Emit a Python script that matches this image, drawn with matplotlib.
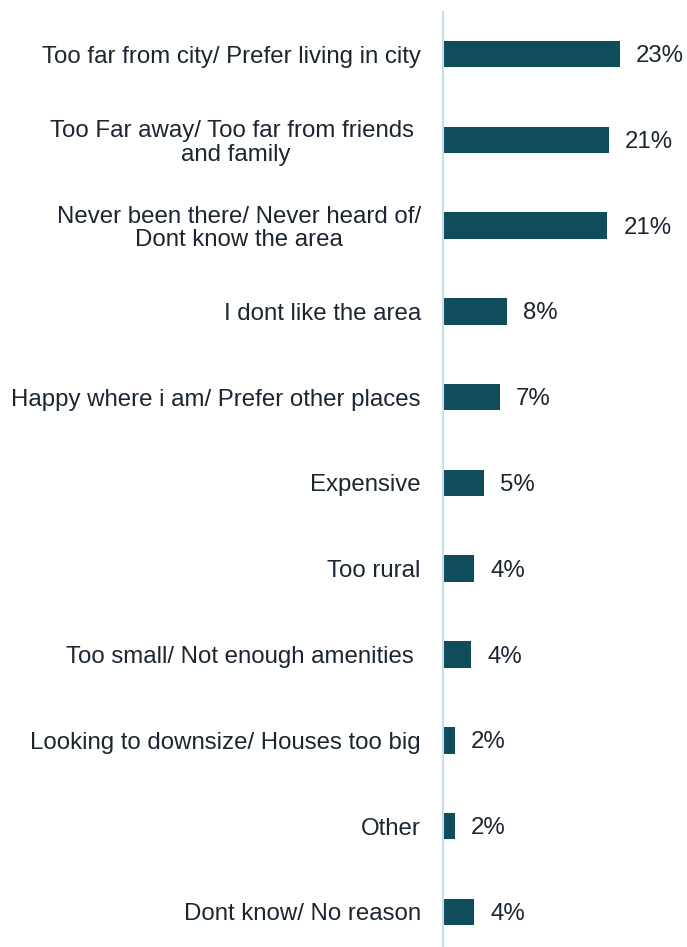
import matplotlib.pyplot as plt

# Reasons for not moving to the area (share of respondents, %)
reasons = [
    "Too far from city/ Prefer living in city",
    "Too Far away/ Too far from friends \nand family",
    "Never been there/ Never heard of/\nDont know the area",
    "I dont like the area",
    "Happy where i am/ Prefer other places",
    "Expensive",
    "Too rural",
    "Too small/ Not enough amenities ",
    "Looking to downsize/ Houses too big",
    "Other",
    "Dont know/ No reason",
]
shares = [22.7, 21.3, 21.1, 8.2, 7.3, 5.2, 4.0, 3.6, 1.5, 1.5, 4.0]

bar_color = "#0F4D5A"
text_color = "#1B2631"
axis_color = "#C6DDEE"
fs = 17.3

plt.rcParams["font.family"] = ["Liberation Sans", "DejaVu Sans"]

fig = plt.figure(figsize=(6.87, 9.47), dpi=100)
ax = fig.add_axes([443 / 687, 0.0, 1 - 443 / 687, 1 - 12 / 947])

pos = list(range(len(reasons)))
bars = ax.barh(pos, shares, height=0.31, color=bar_color)

# value labels next to each bar
for b, v in zip(bars, shares):
    ax.annotate(f"{v:.0f}%", (b.get_width(), b.get_y() + b.get_height() / 2),
                xytext=(11.5, -1.5), textcoords="offset points",
                ha="left", va="center", fontsize=fs, color=text_color)

ax.set_xlim(0, 31.3)
ax.set_ylim(10.41, -0.49)
ax.set_yticks(pos)
ax.set_yticklabels(reasons, fontsize=fs, color=text_color, ma="center",
                   linespacing=1.07)
ax.tick_params(axis="y", length=0, pad=16)
ax.set_xticks([])

for s in ["top", "right", "bottom"]:
    ax.spines[s].set_visible(False)
ax.spines["left"].set_color(axis_color)
ax.spines["left"].set_linewidth(1.5)

fig.savefig("out.png", dpi=100)
